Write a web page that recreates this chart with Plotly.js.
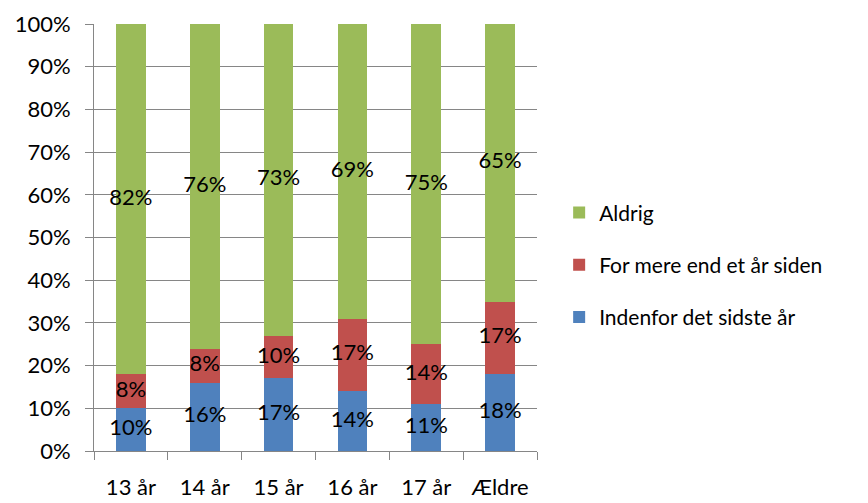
<!DOCTYPE html>
<html>
<head>
<meta charset="utf-8">
<script src="https://cdn.plot.ly/plotly-3.0.1.min.js"></script>
<style>html,body{margin:0;padding:0;background:#fff;}#chart{width:868px;height:503px;}</style>
</head>
<body>
<div id="chart"></div>
<script>
const categories = ["13 år", "14 år", "15 år", "16 år", "17 år", "Ældre"];
const indenfor = [10, 16, 17, 14, 11, 18];
const merEnd = [8, 8, 10, 17, 14, 17];
const aldrig = [82, 76, 73, 69, 75, 65];
const seriesNames = ["Indenfor det sidste år", "For mere end et år siden", "Aldrig"];
const colors = ["#4F81BD", "#C0504D", "#9BBB59"];
const yTicks = [0, 10, 20, 30, 40, 50, 60, 70, 80, 90, 100];

const FONT = "Lato, 'Open Sans', sans-serif";
const series = [indenfor, merEnd, aldrig];
const traces = [];
series.forEach((vals, i) => {
  traces.push({
    type: "bar", x: categories, y: vals, name: seriesNames[i],
    marker: {color: colors[i], line: {width: 0}},
    legendgroup: "g" + i, legendrank: 3 - i, hoverinfo: "skip"
  });
});
const base = categories.map(() => 0);
series.forEach((vals) => {
  const ys = vals.map((v, j) => base[j] + v / 2);
  traces.push({
    type: "scatter", mode: "text", x: categories, y: ys,
    text: vals.map(v => v + "%"), textposition: "middle center",
    textfont: {family: FONT, size: 22, color: "#000"},
    showlegend: false, hoverinfo: "skip", cliponaxis: false
  });
  vals.forEach((v, j) => base[j] += v);
});

const layout = {
  width: 868, height: 503,
  margin: {l: 94, r: 331, t: 24, b: 52},
  paper_bgcolor: "#fff", plot_bgcolor: "#fff",
  barmode: "stack", bargap: 0.6,
  font: {family: FONT, size: 22, color: "#000"},
  xaxis: {
    type: "category", showline: true, linecolor: "#868686", linewidth: 1,
    ticks: "outside", tickson: "boundaries", ticklen: 8, tickcolor: "#868686",
    ticklabelstandoff: 17, showgrid: false, zeroline: false,
    tickfont: {family: FONT, size: 22, color: "#000"}
  },
  yaxis: {
    range: [0, 100], tickmode: "array", tickvals: yTicks, ticktext: yTicks.map(v => v + "%"),
    showline: true, linecolor: "#868686", linewidth: 1,
    ticks: "outside", ticklen: 8, tickcolor: "#868686",
    showgrid: true, gridcolor: "#868686", gridwidth: 1, zeroline: false,
    ticklabelstandoff: 10,
    tickfont: {family: FONT, size: 22, color: "#000"}
  },
  showlegend: true,
  legend: {
    x: 1.05, xanchor: "left", y: 0.436, yanchor: "middle",
    traceorder: "grouped", tracegroupgap: 22,
    font: {family: FONT, size: 21, color: "#000"},
    itemwidth: 30, bgcolor: "rgba(0,0,0,0)"
  }
};
Plotly.newPlot("chart", traces, layout, {displayModeBar: false, staticPlot: true});
</script>
</body>
</html>
